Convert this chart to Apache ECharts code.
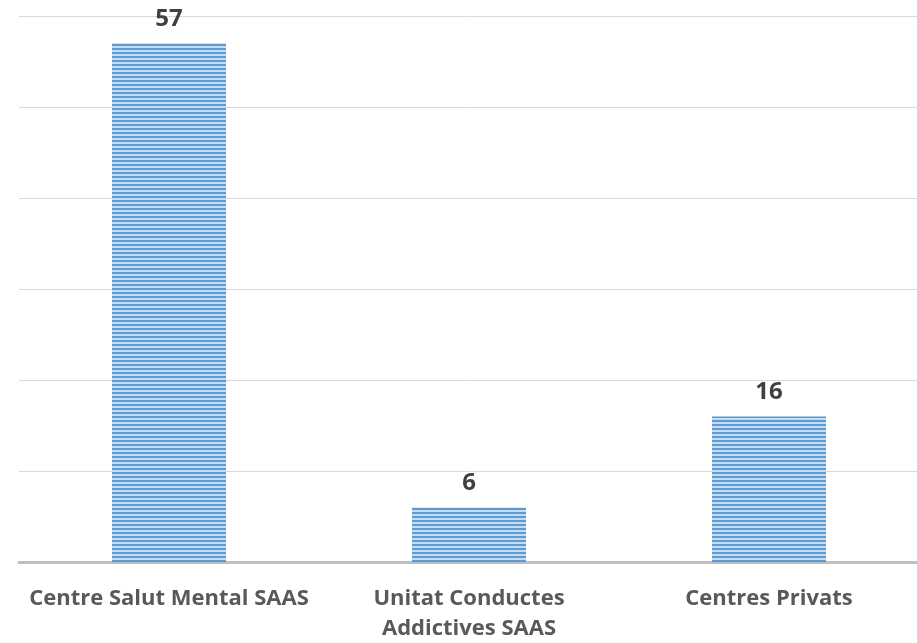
<!DOCTYPE html>
<html>
<head>
<meta charset="utf-8">
<script src="https://cdn.jsdelivr.net/npm/echarts@6/dist/echarts.min.js"></script>
<style>
html, body { margin: 0; padding: 0; background: #fff; }
#chart { width: 917px; height: 643px; }
</style>
</head>
<body>
<div id="chart"></div>
<script>
var categories = ['Centre Salut Mental SAAS', 'Unitat Conductes\nAddictives SAAS', 'Centres Privats'];
var values = [57, 6, 16];

// horizontal stripe fill for the bars
function stripes() {
	let c = document.createElement('canvas');
	c.width = 4;
	c.height = 4;
	let ctx = c.getContext('2d');
	ctx.fillStyle = '#C5DCF2';
	ctx.fillRect(0, 0, 4, 4);
	ctx.fillStyle = '#5B9BD5';
	ctx.fillRect(0, 0, 4, 2);
	return c;
}

let chart = echarts.init(document.getElementById('chart'));
chart.setOption({
	animation: false,
	grid: { left: 19, right: -2, top: 16, bottom: 81, containLabel: false, outerBoundsMode: 'none' },
	xAxis: {
		type: 'category',
		data: categories,
		axisTick: { show: false },
		axisLine: { lineStyle: { color: '#BFBFBF', width: 3 } },
		axisLabel: {
			interval: 0,
			hideOverlap: false,
			margin: 22,
			color: '#595959',
			fontFamily: 'Open Sans',
			fontWeight: 'bold',
			fontSize: 22,
			lineHeight: 30
		}
	},
	yAxis: {
		type: 'value',
		min: 0,
		max: 60,
		interval: 10,
		axisLabel: { show: false },
		axisLine: { show: false },
		axisTick: { show: false },
		splitLine: { lineStyle: { color: '#D9D9D9', width: 1 } }
	},
	series: [{
		type: 'bar',
		data: values,
		barWidth: '38%',
		itemStyle: {
			color: { image: stripes(), repeat: 'repeat' }
		},
		label: {
			show: true,
			position: 'top',
			distance: 12,
			color: '#404040',
			fontFamily: 'Open Sans',
			fontWeight: 'bold',
			fontSize: 24
		}
	}]
});
</script>
</body>
</html>
